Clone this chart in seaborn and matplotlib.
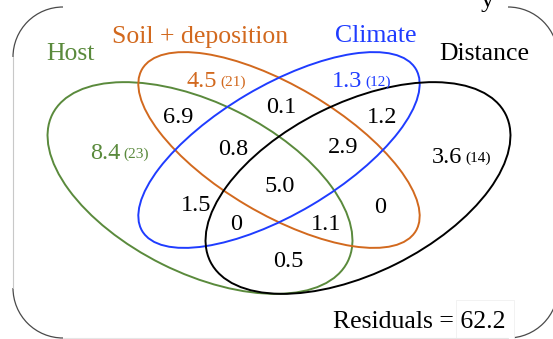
import matplotlib
matplotlib.use("Agg")
import matplotlib.pyplot as plt
from matplotlib.patches import Ellipse, Arc, Rectangle
import seaborn as sns

# ---- data -------------------------------------------------------------
set_names = ["Host", "Soil + deposition", "Climate", "Distance"]
set_colors = ["#5a8a3c", "#d2691e", "#1f3cff", "#000000"]

# variance explained uniquely by each set, and number of variables in it
unique_values = [8.4, 4.5, 1.3, 3.6]
unique_counts = [23, 21, 12, 14]

# shared fractions (H=Host, S=Soil, C=Climate, D=Distance)
shared_regions = ["HS", "SC", "CD", "HSC", "SCD", "HSCD", "HC", "HCD", "HSD", "SD", "HD"]
shared_values = [6.9, 0.1, 1.2, 0.8, 2.9, 5.0, 1.5, 0.0, 1.1, 0.0, 0.5]

residual_value = 62.2

# ---- layout (pixel space) --------------------------------------------
ellipses = [  # cx, cy, width, height, angle
    (200, 188, 330, 170, 26.5),
    (279, 150, 318, 128, 30.6),
    (279, 150, 318, 128, -30.6),
    (358, 188, 330, 170, -26.5),
]
name_pos = [(70.5, 59.5), (200, 42.5), (376, 42), (484.5, 60)]
unique_anchor = [(120, 159), (217, 87), (362, 87), (462, 163)]
shared_pos = [(178, 122.7), (281, 113), (382.5, 123), (233, 155), (343, 153),
              (280, 192), (196, 210.7), (236, 230), (326, 230.5), (380, 213),
              (288.5, 267)]

sns.set_theme(style="white")
plt.rcParams["font.family"] = ["Liberation Serif", "DejaVu Serif"]
palette = sns.color_palette(set_colors)


def fmt(v):
    return "0" if v == 0 else f"{v:.1f}"


fig = plt.figure(figsize=(5.53, 3.39), dpi=100)
ax = fig.add_axes([0, 0, 1, 1])
ax.set_xlim(0, 553)
ax.set_ylim(339, 0)
ax.set_axis_off()

# rounded frame
frame_kw = dict(color="#4a4a4a", lw=0.9)
r = 50
x0, x1, y0, y1 = 13, 508, 57, 288
ax.add_patch(Arc((63, y0), 2 * r, 2 * r, theta1=180, theta2=270, **frame_kw))
ax.add_patch(Arc((x1, y0), 2 * r, 2 * r, theta1=270, theta2=360, **frame_kw))
ax.add_patch(Arc((x1, y1), 2 * r, 2 * r, theta1=0, theta2=90, **frame_kw))
ax.add_patch(Arc((63, y1), 2 * r, 2 * r, theta1=90, theta2=180, **frame_kw))
ax.plot([x0, x0], [y0, y1], color="#c8c8c8", lw=0.8)
ax.plot([63, x1], [338, 338], color="#e6e6e6", lw=0.8)

# partially visible heading glyph at the top edge
ax.text(487, 7, "y", fontsize=19, ha="center", va="baseline", color="black")

# set ellipses
for (cx, cy, w, h, ang), col in zip(ellipses, palette):
    ax.add_patch(Ellipse((cx, cy), w, h, angle=ang, fill=False,
                         edgecolor=col, lw=1.4))

# set names
for name, (x, y), col in zip(set_names, name_pos, palette):
    ax.text(x, y, name, fontsize=18.5, color=col, ha="center", va="baseline")

# unique fractions with variable counts
for v, n, (x, y), col in zip(unique_values, unique_counts, unique_anchor, palette):
    ax.text(x, y, fmt(v), fontsize=17.5, color=col, ha="right", va="baseline")
    ax.text(x + 3.5, y - 1, f"({n})", fontsize=11, color=col, ha="left", va="baseline")

# shared fractions
for v, (x, y) in zip(shared_values, shared_pos):
    ax.text(x, y, fmt(v), fontsize=17.5, color="black", ha="center", va="baseline")

# residuals
ax.add_patch(Rectangle((456, 300), 58, 39, facecolor="white",
                       edgecolor="#f0f0f0", lw=0.6))
ax.text(419, 328.3, f"Residuals = {residual_value:.1f}", fontsize=18.5,
        color="black", ha="center", va="baseline")

fig.savefig("out.png", dpi=100)
